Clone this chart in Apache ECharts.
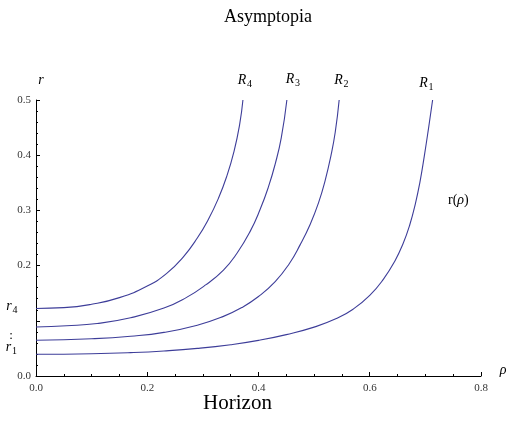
<!DOCTYPE html>
<html>
<head>
<meta charset="utf-8">
<script src="https://cdn.jsdelivr.net/npm/echarts@6/dist/echarts.min.js"></script>
<style>html,body{margin:0;padding:0;background:#fff}#c{width:509px;height:424px}</style>
</head>
<body>
<div id="c"></div>
<script>
// [rho, r] pairs
var curveR1 = [[0,0.0394],[0.1,0.0404],[0.17,0.0424],[0.23,0.0454],[0.29,0.050],[0.35,0.0567],[0.4,0.0645],[0.45,0.075],[0.5,0.0885],[0.54,0.104],[0.57,0.121],[0.6,0.146],[0.625,0.176],[0.645,0.208],[0.66,0.240],[0.672,0.274],[0.682,0.312],[0.69,0.350],[0.698,0.398],[0.706,0.451],[0.713,0.5]];
var curveR2 = [[0,0.0647],[0.1,0.0675],[0.17,0.072],[0.23,0.079],[0.29,0.092],[0.337,0.108],[0.37,0.124],[0.4,0.144],[0.43,0.171],[0.455,0.203],[0.475,0.238],[0.493,0.275],[0.508,0.314],[0.52,0.355],[0.53,0.398],[0.538,0.442],[0.545,0.5]];
var curveR3 = [[0,0.0889],[0.055,0.091],[0.11,0.095],[0.17,0.1055],[0.23,0.123],[0.27,0.142],[0.305,0.165],[0.337,0.192],[0.361,0.222],[0.385,0.262],[0.403,0.302],[0.418,0.343],[0.43,0.384],[0.441,0.432],[0.451,0.5]];
var curveR4 = [[0,0.1223],[0.05,0.1238],[0.1,0.130],[0.15,0.142],[0.2,0.163],[0.235,0.186],[0.265,0.216],[0.29,0.250],[0.31,0.284],[0.328,0.322],[0.343,0.362],[0.356,0.407],[0.366,0.455],[0.372,0.5]];
var xTicks = [0, 0.2, 0.4, 0.6, 0.8];
var yTicks = [0, 0.1, 0.2, 0.3, 0.4, 0.5];
var hiddenYLabels = [0.1];

var FONT = "'Liberation Serif','Times New Roman',serif";
var lineColor = '#3d3d99';
var chart = echarts.init(document.getElementById('c'), null, {renderer:'canvas'});

function txt(x, y, s, size, italic, align) {
  return {type:'text', x:x, y:y, silent:true, style:{text:s, fontFamily:FONT, fontSize:size, fontStyle: italic?'italic':'normal', fill:'#000', align: align||'center', verticalAlign:'middle'}};
}
var graphics = [
  txt(268, 17, 'Asymptopia', 18),
  txt(237.5, 403, 'Horizon', 21),
  txt(242, 80, 'R', 14, true), txt(249.5, 84, '4', 10),
  txt(290, 79, 'R', 14, true), txt(297.5, 83, '3', 10),
  txt(338.5, 80.5, 'R', 14, true), txt(346, 84.5, '2', 10),
  txt(423.5, 83, 'R', 14, true), txt(431, 87, '1', 10),
  txt(9, 306, 'r', 14, true), txt(15, 310, '4', 10),
  txt(11, 336, ':', 13),
  txt(8.5, 347, 'r', 14, true), txt(14.5, 351, '1', 10),
  txt(41, 80, 'r', 14, true),
  txt(503, 370, 'ρ', 14, true),
  {type:'text', x:448, y:200, silent:true, style:{text:'r({i|ρ})', fontFamily:FONT, fontSize:14, fill:'#000', align:'left', verticalAlign:'middle', rich:{i:{fontFamily:FONT, fontSize:14, fontStyle:'italic', fill:'#000'}}}}
];

function mkSeries(name, data) {
  return {name:name, type:'line', data:data, showSymbol:false, smooth:0.5, smoothConstraint:false, lineStyle:{color:lineColor, width:1.1}, itemStyle:{color:lineColor}, silent:true, animation:false, clip:false};
}

chart.setOption({
  animation:false,
  backgroundColor:'#fff',
  grid:{left:36, right:28, top:100, bottom:48, containLabel:false},
  xAxis:{type:'value', min:xTicks[0], max:xTicks[xTicks.length-1], interval:0.2,
    axisLine:{show:true, onZero:false, lineStyle:{color:'#000', width:1}},
    axisTick:{show:true, inside:true, length:4, lineStyle:{color:'#000'}},
    minorTick:{show:true, splitNumber:4, length:2, lineStyle:{color:'#000'}},
    splitLine:{show:false},
    axisLabel:{margin:7, fontFamily:FONT, fontSize:11, color:'#333', formatter:function(v){return v.toFixed(1);}}},
  yAxis:{type:'value', min:yTicks[0], max:yTicks[yTicks.length-1], interval:0.1,
    axisLine:{show:true, onZero:false, lineStyle:{color:'#000', width:1}},
    axisTick:{show:true, inside:true, length:4, lineStyle:{color:'#000'}},
    minorTick:{show:true, splitNumber:5, length:2, lineStyle:{color:'#000'}},
    splitLine:{show:false},
    axisLabel:{margin:5, fontFamily:FONT, fontSize:11, color:'#333', formatter:function(v){
      for (var i=0;i<hiddenYLabels.length;i++){ if (Math.abs(v-hiddenYLabels[i])<1e-9) return ''; }
      return v.toFixed(1);}}},
  series:[mkSeries('R1', curveR1), mkSeries('R2', curveR2), mkSeries('R3', curveR3), mkSeries('R4', curveR4)],
  graphic: graphics
});
</script>
</body>
</html>
